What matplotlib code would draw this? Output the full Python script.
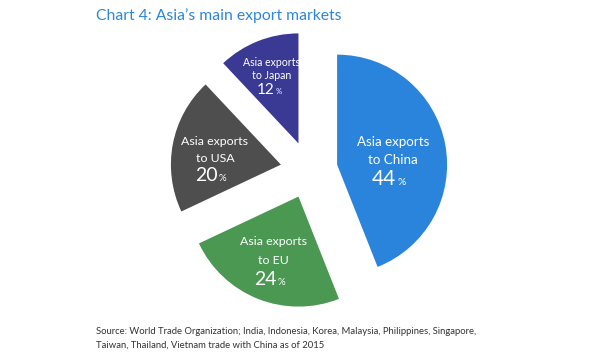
import matplotlib.pyplot as plt
import numpy as np

plt.rcParams['font.family'] = ['Lato', 'DejaVu Sans']

line1 = ["Asia exports", "Asia exports", "Asia exports", "Asia exports"]
line2 = ["to China", "to EU", "to USA", "to Japan"]
shares = [44, 24, 20, 12]
colors = ["#2a84dc", "#4a9852", "#4e4e4e", "#3a3994"]

# label placement (fraction of radius from the shifted wedge tip), nudges and spacing in px
label_dist = [0.52, 0.62, 0.61, 0.65]
nudge_px = [(0, -6), (0, 0), (0, -6), (-1, 1)]
gap_px = [18, 19, 17, 13]
label_size = [9.6, 8.9, 8.9, 7.6]
num_size = [15, 14, 14, 11]

PX = 1 / 110  # data units per pixel (radius = 110 px)

fig = plt.figure(figsize=(6, 3.57), dpi=100)
# pie centre at (309, 170) px
ax = fig.add_axes([(309 - 150) / 600, (357 - 170 - 150) / 357, 300 / 600, 300 / 357])

explode = [0.26] * len(shares)
wedges, _ = ax.pie(shares, colors=colors, startangle=90, counterclock=False,
                   explode=explode, radius=1, center=(0, 0), frame=False,
                   wedgeprops=dict(linewidth=0))
ax.set_xlim(-150 * PX, 150 * PX)
ax.set_ylim(-150 * PX, 150 * PX)
ax.set_aspect("auto")
ax.axis("off")

for w, l1, l2, v, d, nd, g, ls, ns in zip(wedges, line1, line2, shares, label_dist,
                                          nudge_px, gap_px, label_size, num_size):
    mid = np.deg2rad((w.theta1 + w.theta2) / 2)
    cx, cy = w.center
    x = cx + d * np.cos(mid) + nd[0] * PX
    y = cy + d * np.sin(mid) + nd[1] * PX
    ax.text(x, y + g * PX, l1, ha="center", va="center", color="white", fontsize=ls)
    ax.text(x, y, l2, ha="center", va="center", color="white", fontsize=ls)
    yb = y - (g + 0.45 * ns) * PX
    ax.text(x + 3 * PX, yb, str(v), ha="right", va="baseline", color="white", fontsize=ns)
    ax.text(x + 4 * PX, yb, "%", ha="left", va="baseline", color="white", fontsize=ns * 0.5)

fig.text(96 / 600, 1 - 20 / 357, "Chart 4: Asia\u2019s main export markets",
         color="#2d86dc", fontsize=11.3, ha="left", va="baseline")
fig.text(96 / 600, 1 - 334 / 357,
         "Source: World Trade Organization; India, Indonesia, Korea, Malaysia, Philippines, Singapore,",
         color="#333333", fontsize=6.8, ha="left", va="baseline")
fig.text(96 / 600, 1 - 348 / 357,
         "Taiwan, Thailand, Vietnam trade with China as of 2015",
         color="#333333", fontsize=6.8, ha="left", va="baseline")

fig.savefig("out.png", dpi=100, facecolor="white")
